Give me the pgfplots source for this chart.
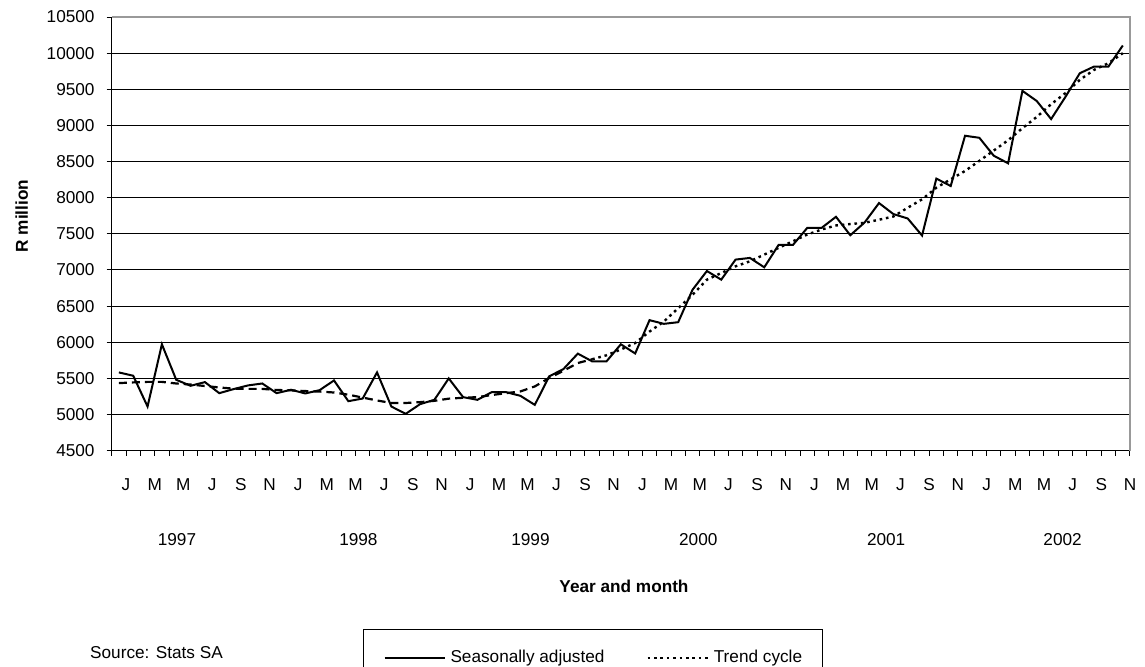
\documentclass[border=0pt]{standalone}
\usepackage{fontspec}
\setmainfont{Liberation Sans}
\usepackage{pgfplots}
\usepackage{pgfplotstable}
\pgfplotsset{compat=1.18}

\pgfplotstableread{
i sa tr
0 5583 5435
1 5537 5445
2 5111 5452
3 5972 5452
4 5481 5430
5 5398 5415
6 5449 5395
7 5296 5375
8 5352 5358
9 5403 5355
10 5430 5355
11 5296 5340
12 5343 5335
13 5292 5325
14 5338 5318
15 5472 5305
16 5185 5275
17 5222 5235
18 5583 5195
19 5111 5160
20 5010 5160
21 5144 5172
22 5204 5190
23 5500 5220
24 5241 5232
25 5204 5241
26 5310 5270
27 5310 5296
28 5259 5320
29 5134 5389
30 5528 5505
31 5630 5606
32 5843 5713
33 5736 5765
34 5736 5820
35 5972 5900
36 5845 5990
37 6306 6148
38 6255 6287
39 6278 6472
40 6727 6657
41 6986 6866
42 6866 6958
43 7144 7051
44 7167 7120
45 7037 7213
46 7347 7306
47 7347 7398
48 7583 7491
49 7583 7560
50 7736 7616
51 7481 7636
52 7658 7653
53 7926 7695
54 7774 7740
55 7713 7861
56 7477 7977
57 8264 8139
58 8162 8255
59 8857 8370
60 8829 8510
61 8581 8652
62 8476 8795
63 9478 8962
64 9338 9118
65 9088 9294
66 9395 9447
67 9722 9630
68 9815 9769
69 9815 9861
70 10106 10000
}\datatable

\begin{document}
\fontsize{8.6bp}{10.3bp}\selectfont
\begin{tikzpicture}
\path[use as bounding box] (0,0) rectangle (572.5bp,333.5bp);
\begin{axis}[
  at={(55.85bp,108.15bp)}, anchor=south west,
  scale only axis, width=509.15bp, height=216.85bp,
  xmin=-0.5, xmax=70.5, ymin=4500, ymax=10500,
  axis x line*=bottom, axis y line*=left,
  axis line style={black, line width=0.6bp, -},
  ytick={4500,5000,...,10500},
  scaled y ticks=false,
  ymajorgrids, major grid style={black, line width=0.5bp},
  xtick={0.5,2.5,...,70.5},
  xticklabels={J,M,M,J,S,N,J,M,M,J,S,N,J,M,M,J,S,N,J,M,M,J,S,N,J,M,M,J,S,N,J,M,M,J,S,N},
  minor xtick={-0.5,0.5,...,70.5},
  tick align=outside, major tick length=2.5bp, minor tick length=2.5bp,
  tick style={black, line width=0.5bp},
  yticklabel={\pgfmathprintnumber[fixed, precision=0, 1000 sep={}, assume math mode=true]{\tick}},
  yticklabel style={anchor=east, xshift=-3bp},
  xticklabel style={yshift=-8.5bp},
  xlabel={\bfseries Year and month},
  xlabel style={at={(axis description cs:0.5031,-0.312)}, anchor=center},
  ylabel={\bfseries R million},
  ylabel style={at={(axis description cs:-0.0884,0.5412)}, anchor=center, rotate=0},
  clip=false,
  legend columns=2,
  legend style={at={(axis description cs:0.2468,-0.4111)}, anchor=north west,
    draw=black, line width=0.5bp, inner xsep=10bp, inner ysep=10.5bp,
    nodes={inner sep=0pt},
    /tikz/every odd column/.append style={column sep=2.5bp},
    /tikz/every even column/.append style={column sep=21bp}},
  legend image code/.code={\draw[#1] (0bp,0bp) -- (30bp,0bp);},
]
\addplot[black, line width=1bp] table[x=i, y=sa] {\datatable};
\addlegendentry{Seasonally adjusted}
\addplot[black, line width=1.1bp, dash pattern=on 4bp off 2.5bp, forget plot, restrict x to domain=0:33] table[x=i, y=tr] {\datatable};
\addplot[black, line width=1.2bp, dash pattern=on 1.3bp off 1.9bp, restrict x to domain=33:70] table[x=i, y=tr] {\datatable};
\addlegendentry{Trend cycle}
\draw[gray!80, line width=0.6bp] (rel axis cs:0,1) -- (rel axis cs:1,1) -- (rel axis cs:1,0);
\node at (axis cs:4.05,4500) [yshift=-44.65bp] {1997};
\node at (axis cs:16.7,4500) [yshift=-44.65bp] {1998};
\node at (axis cs:28.7,4500) [yshift=-44.65bp] {1999};
\node at (axis cs:40.4,4500) [yshift=-44.65bp] {2000};
\node at (axis cs:53.5,4500) [yshift=-44.65bp] {2001};
\node at (axis cs:65.8,4500) [yshift=-44.65bp] {2002};
\end{axis}
\node[anchor=west, inner sep=0pt] at (44.9bp,7bp) {Source: Stats SA};
\end{tikzpicture}
\end{document}
